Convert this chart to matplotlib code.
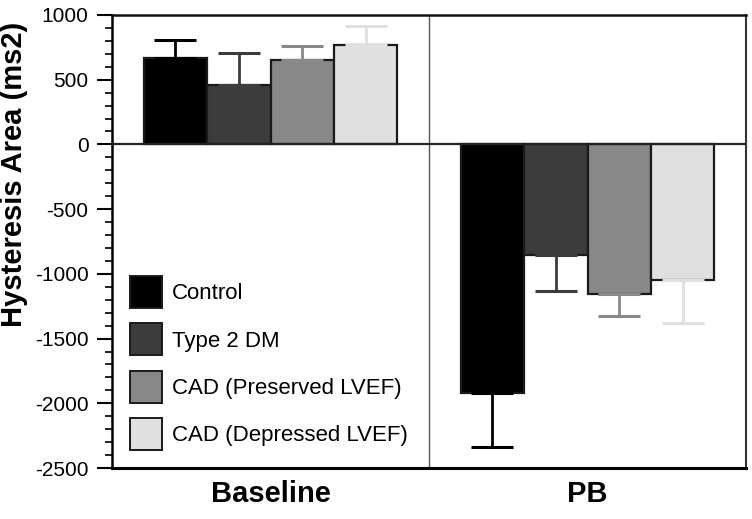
import matplotlib
matplotlib.use("Agg")
import matplotlib.pyplot as plt
from matplotlib.ticker import MultipleLocator
from matplotlib.patches import Patch

plt.rcParams['font.family'] = ['Liberation Sans', 'DejaVu Sans']
plt.rcParams['axes.unicode_minus'] = False

groups = ["Baseline", "PB"]
series = ["Control", "Type 2 DM", "CAD (Preserved LVEF)", "CAD (Depressed LVEF)"]
baseline_means = [670, 461, 649, 770]
baseline_err = [139, 244, 111, 144]
pb_means = [-1917, -858, -1159, -1051]
pb_err = [417, 278, 170, 325]
colors = ["#000000", "#3c3c3c", "#888888", "#e0e0e0"]

means = [baseline_means, pb_means]
errs = [baseline_err, pb_err]

fig = plt.figure(figsize=(7.52, 5.19), dpi=100)
ax = fig.add_axes([112/752, (519-468)/519, (746-112)/752, (468-15)/519])

width = 0.2
for gi in range(len(groups)):
    for si in range(len(series)):
        x = gi + 0.1 + width * si + width / 2
        m = means[gi][si]
        e = errs[gi][si]
        ax.bar(x, m, width=width, color=colors[si], edgecolor="#1a1a1a", linewidth=1.6, zorder=2)
        yerr = [[0], [e]] if m >= 0 else [[e], [0]]
        ax.errorbar(x, m, yerr=yerr, fmt='none', ecolor=colors[si], elinewidth=2,
                    capsize=15, capthick=2.2, zorder=3)

ax.set_xlim(0, 2)
ax.set_ylim(-2500, 1000)
ax.axhline(0, color="#222222", linewidth=1.6, zorder=4)
ax.axvline(1, color="#555555", linewidth=1.0, zorder=1)

ax.set_xticks([0.5, 1.5])
ax.set_xticklabels(groups, fontsize=21, fontweight='bold')
ax.tick_params(axis='x', length=0, pad=9)

ax.yaxis.set_major_locator(MultipleLocator(500))
ax.yaxis.set_minor_locator(MultipleLocator(100))
ax.tick_params(axis='y', which='major', length=11, width=1.5, direction='out', labelsize=15, pad=6)
ax.tick_params(axis='y', which='minor', length=5, width=1.2, direction='out')

ax.set_ylabel("Hysteresis Area (ms2)", fontsize=21, fontweight='bold')
ax.yaxis.set_label_coords(-0.133, 0.648)

for s, lw, c in [('left', 1.8, '#000000'), ('bottom', 2.2, '#000000'), ('top', 1.8, '#111111'), ('right', 1.5, '#333333')]:
    ax.spines[s].set_linewidth(lw)
    ax.spines[s].set_color(c)

handles = [Patch(facecolor=colors[i], edgecolor="#1a1a1a", linewidth=1.4) for i in range(len(series))]
ax.legend(handles, series, loc='lower left', bbox_to_anchor=((130-112)/634, (468-450)/453),
          frameon=False, fontsize=16, handlelength=1.44, handleheight=1.835,
          handletextpad=0.45, labelspacing=0.69, borderpad=0, borderaxespad=0)

fig.savefig("out.png", dpi=100)
